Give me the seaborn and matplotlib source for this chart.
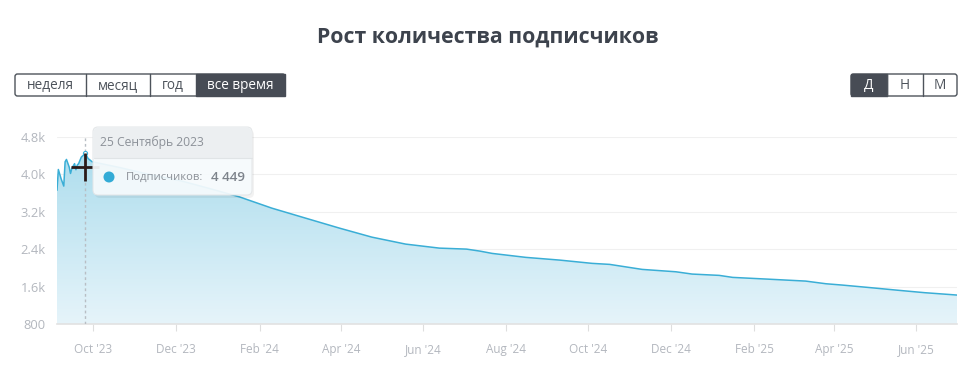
"""
Рост количества подписчиков — повтор графика (seaborn + matplotlib)
"""
import numpy as np
import pandas as pd
import matplotlib
matplotlib.use("Agg")
import matplotlib.pyplot as plt
import matplotlib.dates as mdates
from matplotlib.patches import FancyBboxPatch, Rectangle, Circle
import seaborn as sns

# ── данные ────────────────────────────────────────────────────────────────
DATES = [
    "2023-09-04", "2023-09-05", "2023-09-07", "2023-09-09", "2023-09-10",
    "2023-09-11", "2023-09-13", "2023-09-14", "2023-09-15", "2023-09-17",
    "2023-09-18", "2023-09-19", "2023-09-20", "2023-09-22", "2023-09-25",
    "2023-09-27", "2023-09-30", "2023-10-20", "2023-11-11", "2023-12-05",
    "2023-12-25", "2024-01-17", "2024-02-10", "2024-03-06", "2024-03-31",
    "2024-04-24", "2024-05-19", "2024-06-13", "2024-07-03", "2024-07-13",
    "2024-07-22", "2024-08-16", "2024-09-10", "2024-10-04", "2024-10-17",
    "2024-11-10", "2024-12-05", "2024-12-17", "2025-01-06", "2025-01-16",
    "2025-02-10", "2025-03-11", "2025-03-26", "2025-04-07", "2025-04-27",
    "2025-05-19", "2025-06-07", "2025-06-24", "2025-07-01",
]
SUBS = [
    3660, 4105, 3910, 3750, 4270,
    4320, 4160, 4020, 4130, 4230,
    4100, 4200, 4230, 4370, 4449,
    4340, 4270, 4150, 4000, 3860,
    3705, 3519, 3278, 3064, 2851,
    2658, 2509, 2423, 2402, 2359,
    2310, 2225, 2167, 2097, 2075,
    1968, 1917, 1868, 1840, 1797,
    1761, 1718, 1661, 1633, 1580,
    1520, 1470, 1434, 1419,
]
Y_TICKS = [800, 1600, 2400, 3200, 4000, 4800]
Y_LABELS = ["800", "1.6k", "2.4k", "3.2k", "4.0k", "4.8k"]
PERIODS = ["неделя", "месяц", "год", "все время"]
STEPS = ["Д", "Н", "М"]
HOVER_DATE = "2023-09-25"
HOVER_TEXT = "25 Сентябрь 2023"

LINE = "#3aaed6"
GREY = "#b3b7be"
DARK = "#474c55"

sns.set_theme(style="white")
plt.rcParams["font.family"] = ["Open Sans", "DejaVu Sans"]

df = pd.DataFrame({"date": pd.to_datetime(DATES), "subs": SUBS})

fig = plt.figure(figsize=(9.72, 3.82), dpi=100)
W, H = 972, 382
ax = fig.add_axes([57 / W, (H - 324) / H, 900 / W, (324 - 137) / H])

x0 = pd.Timestamp("2023-09-04")
x1 = pd.Timestamp("2025-07-01")
ax.set_xlim(x0, x1)
ax.set_ylim(800, 4800)

# заливка-градиент под линией
poly = ax.fill_between(df["date"], df["subs"], 800, color="none", lw=0)
grad = np.linspace(0, 1, 256).reshape(-1, 1)
top = np.array([168, 219, 236]) / 255
bot = np.array([230, 244, 250]) / 255
img = top * (1 - grad[..., None]) + bot * grad[..., None]
im = ax.imshow(img, extent=[mdates.date2num(x0), mdates.date2num(x1), 800, 4800],
               aspect="auto", origin="upper", zorder=1)
im.set_clip_path(poly.get_paths()[0], transform=ax.transData)

sns.lineplot(data=df, x="date", y="subs", ax=ax, color=LINE, lw=1.1, zorder=3)

# сетка и оси
for v in Y_TICKS:
    ax.axhline(v, color="#f0f0f0", lw=0.8, zorder=0)
ax.set_yticks(Y_TICKS)
ax.set_yticklabels(Y_LABELS)
ax.xaxis.set_major_locator(mdates.MonthLocator(bymonth=[2, 4, 6, 8, 10, 12]))
ax.xaxis.set_major_formatter(mdates.DateFormatter("%b '%y"))
ax.tick_params(axis="x", length=5, color="#dedede", width=0.8, labelsize=8.5,
               labelcolor=GREY, pad=9, bottom=True)
ax.tick_params(axis="y", length=0, labelsize=9.3, labelcolor=GREY, pad=8)
for s in ["top", "right", "left"]:
    ax.spines[s].set_visible(False)
ax.spines["bottom"].set_color("#e2e2e2")
ax.spines["bottom"].set_linewidth(1.2)
ax.set_xlabel("")
ax.set_ylabel("")
ax.grid(False)

# линия наведения и точка
hx = pd.Timestamp(HOVER_DATE)
hy = df.loc[df["date"] == hx, "subs"].iloc[0]
ax.axvline(hx, color="#b8bec4", lw=1, ls=(0, (2, 2)), zorder=4)
ax.plot([hx], [hy], "o", ms=3, mfc="white", mec=LINE, mew=0.8, zorder=5)
ax.plot([hx], [hy - 300], "+", ms=20, mew=2, color="#2a1a18", zorder=6)

# верхний слой в пикселях: заголовок, кнопки, подсказка
ov = fig.add_axes([0, 0, 1, 1])
ov.set_xlim(0, W)
ov.set_ylim(H, 0)
ov.axis("off")
ov.patch.set_alpha(0)

ov.text(W / 2 + 2, 37, "Рост количества подписчиков", ha="center", va="center",
        fontsize=15.3, fontweight="bold", color="#3d434d")


def buttons(labels, edges, active, y=74, h=22):
    ov.add_patch(FancyBboxPatch((edges[0], y), edges[-1] - edges[0], h,
                                boxstyle="round,pad=0,rounding_size=2.5",
                                fc="white", ec="#4d535b", lw=1))
    for i, lab in enumerate(labels):
        a, b = edges[i], edges[i + 1]
        if i == active:
            ov.add_patch(Rectangle((a, y), b - a, h, fc=DARK, ec=DARK, lw=1))
        elif i > 0:
            ov.plot([a, a], [y, y + h], color="#4d535b", lw=1)
        ov.text((a + b) / 2, y + h / 2 + 0.5, lab, ha="center", va="center",
                fontsize=9.8, color="white" if i == active else "#4d535b")


buttons(PERIODS, [15, 86, 150, 196, 285], 3)
buttons(STEPS, [851, 887, 923, 957], 0)

# подсказка
ov.add_patch(FancyBboxPatch((95, 130), 159, 68, boxstyle="round,pad=0,rounding_size=5",
                            fc="#000000", ec="none", alpha=0.05))
ov.add_patch(FancyBboxPatch((93, 127), 159, 68, boxstyle="round,pad=0,rounding_size=5",
                            fc="#f7fbfd", ec="#e3e6e8", lw=0.8, alpha=0.93))
ov.add_patch(FancyBboxPatch((93.5, 127.5), 158, 30, boxstyle="round,pad=0,rounding_size=5",
                            fc="#eceff1", ec="none"))
ov.add_patch(Rectangle((93.5, 150), 158, 7.5, fc="#eceff1", ec="none"))
ov.plot([93.5, 251.5], [157.5, 157.5], color="#e0e4e6", lw=0.8)
ov.text(100, 142.5, HOVER_TEXT, ha="left", va="center", fontsize=8.7, color="#8c9198")
ov.add_patch(Circle((109, 177), 5.5, fc="#33abd6", ec="none"))
ov.text(126, 177.5, "Подписчиков:", ha="left", va="center", fontsize=8.1, color="#8c9198")
ov.text(211, 177.5, f"{hy:,}".replace(",", " "), ha="left", va="center",
        fontsize=9.6, color="#7d838b", fontweight="semibold")

fig.savefig("out.png", dpi=100)
